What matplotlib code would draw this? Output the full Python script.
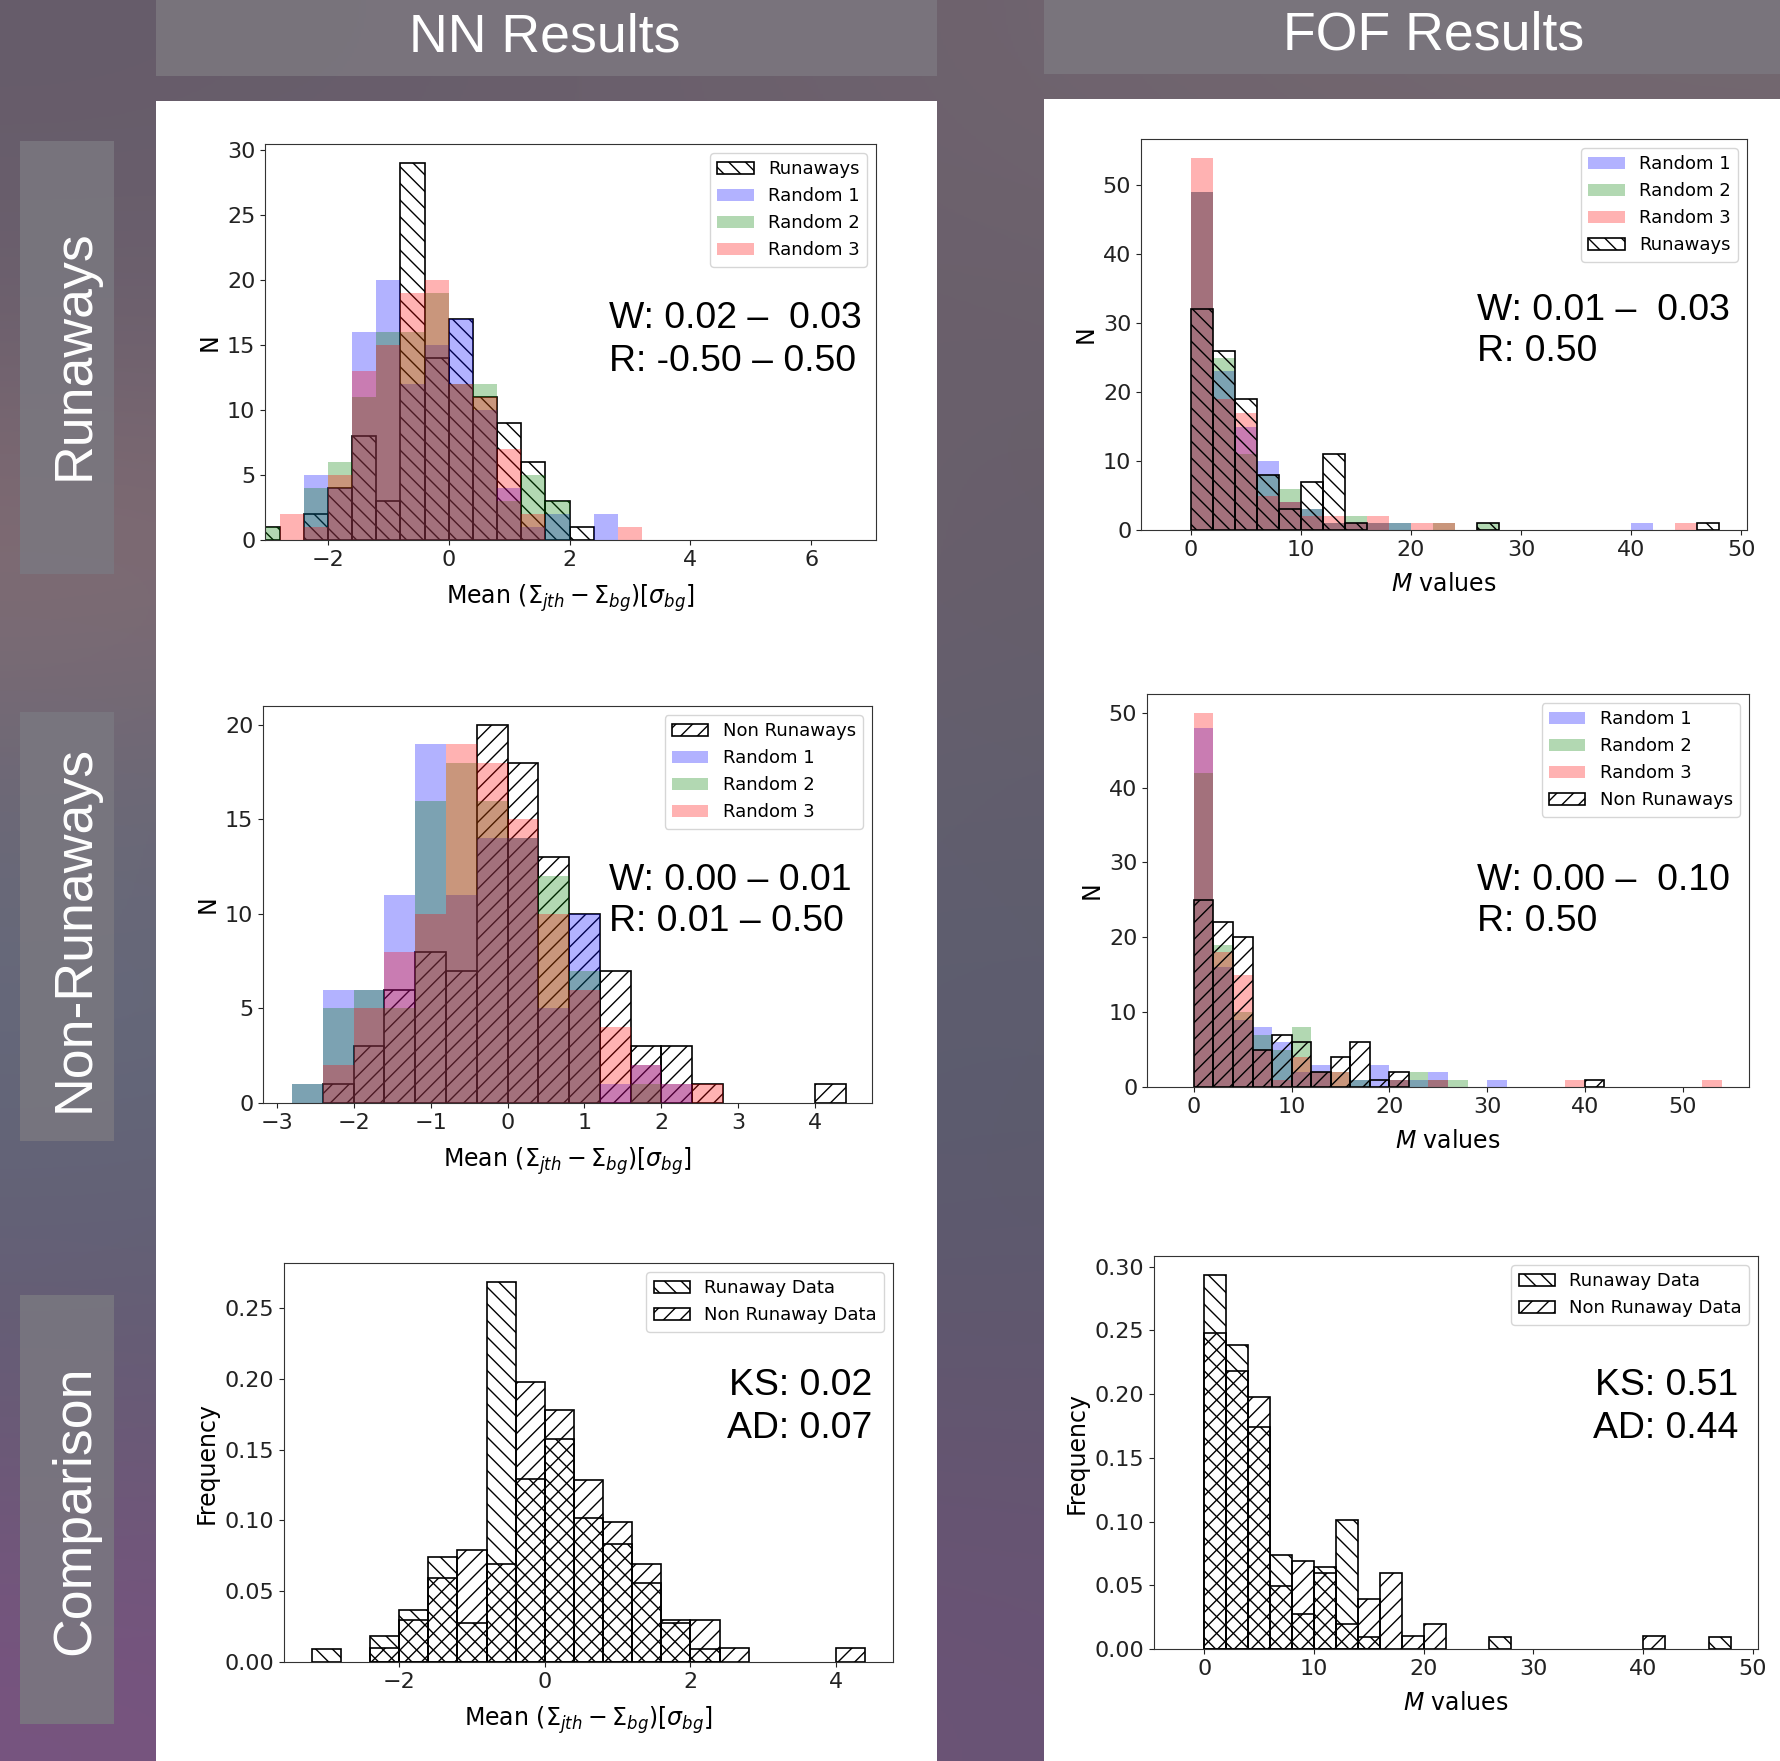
import numpy as np
import matplotlib
matplotlib.use('Agg')
import matplotlib.pyplot as plt
from matplotlib.patches import Rectangle
from matplotlib.ticker import MultipleLocator
from matplotlib import font_manager

# ------------------------------------------------------------------ data
# NN panels: bins of width 0.4 (left edges)
nn_bin_left = [-3.2, -2.8, -2.4, -2.0, -1.6, -1.2, -0.8, -0.4, 0.0, 0.4,
               0.8, 1.2, 1.6, 2.0, 2.4, 2.8, 3.2, 3.6, 4.0]
nn_bin_width = 0.4

nn_run    = [1, 0, 2, 4, 8, 3, 29, 14, 17, 11, 9, 6, 3, 1, 0, 0, 0, 0, 0]
nn_run_r1 = [0, 0, 5, 4, 16, 20, 12, 15, 17, 10, 4, 1, 2, 0, 2, 0, 0, 0, 0]
nn_run_r2 = [1, 0, 4, 6, 11, 16, 16, 19, 12, 12, 3, 5, 3, 0, 0, 0, 0, 0, 0]
nn_run_r3 = [0, 2, 1, 5, 13, 15, 19, 20, 12, 11, 7, 2, 0, 0, 0, 1, 0, 0, 0]

nn_non    = [0, 0, 1, 3, 6, 8, 7, 20, 18, 13, 10, 7, 3, 3, 1, 0, 0, 0, 1]
nn_non_r1 = [0, 1, 6, 6, 11, 19, 11, 14, 14, 5, 10, 1, 2, 1, 0, 0, 0, 0, 0]
nn_non_r2 = [0, 1, 5, 6, 5, 16, 18, 16, 14, 12, 7, 0, 1, 0, 0, 0, 0, 0, 0]
nn_non_r3 = [0, 0, 2, 5, 8, 10, 19, 18, 15, 10, 6, 4, 2, 1, 1, 0, 0, 0, 0]

# FOF panels: bins of width 2 (left edges)
fof_bin_left = [0, 2, 4, 6, 8, 10, 12, 14, 16, 18, 20, 22, 24, 26, 28, 30,
                32, 34, 36, 38, 40, 42, 44, 46, 48, 50, 52]
fof_bin_width = 2

fof_run    = [32, 26, 19, 8, 3, 7, 11, 1, 0, 0, 0, 0, 0, 1, 0, 0, 0, 0, 0, 0, 0, 0, 0, 1, 0, 0, 0]
fof_run_r1 = [49, 23, 15, 10, 4, 3, 1, 1, 1, 1, 0, 0, 0, 0, 0, 0, 0, 0, 0, 0, 1, 0, 0, 0, 0, 0, 0]
fof_run_r2 = [49, 25, 11, 8, 6, 3, 1, 2, 1, 1, 0, 1, 0, 1, 0, 0, 0, 0, 0, 0, 0, 0, 0, 0, 0, 0, 0]
fof_run_r3 = [54, 19, 17, 5, 4, 2, 2, 1, 2, 0, 1, 1, 0, 0, 0, 0, 0, 0, 0, 0, 0, 0, 1, 0, 0, 0, 0]

fof_non    = [25, 22, 20, 5, 7, 6, 2, 4, 6, 1, 2, 0, 0, 0, 0, 0, 0, 0, 0, 0, 1, 0, 0, 0, 0, 0, 0]
fof_non_r1 = [48, 16, 9, 8, 6, 2, 3, 0, 1, 3, 1, 1, 2, 0, 0, 1, 0, 0, 0, 0, 0, 0, 0, 0, 0, 0, 0]
fof_non_r2 = [42, 19, 10, 7, 5, 8, 2, 2, 1, 0, 1, 2, 1, 1, 0, 0, 0, 0, 0, 0, 0, 0, 0, 0, 0, 0, 0]
fof_non_r3 = [50, 18, 15, 5, 1, 4, 2, 2, 0, 0, 1, 0, 1, 0, 0, 0, 0, 0, 0, 1, 0, 0, 0, 0, 0, 0, 1]

col_titles = ["NN Results", "FOF Results"]
row_titles = ["Runaways", "Non-Runaways", "Comparison"]
random_labels = ["Random 1", "Random 2", "Random 3"]
stats_text = {
    "tl": ["W: 0.02 \u2013  0.03", "R: -0.50 \u2013 0.50"],
    "tr": ["W: 0.01 \u2013  0.03", "R: 0.50"],
    "ml": ["W: 0.00 \u2013 0.01", "R: 0.01 \u2013 0.50"],
    "mr": ["W: 0.00 \u2013  0.10", "R: 0.50"],
    "bl": ["KS: 0.02", "AD: 0.07"],
    "br": ["KS: 0.51", "AD: 0.44"],
}

# ------------------------------------------------------------------ setup
W, H, DPI = 1781, 1761, 100
avail = {f.name for f in font_manager.fontManager.ttflist}
if 'Liberation Sans Narrow' in avail:
    SLIDE_FONT, fscale = ['Liberation Sans Narrow', 'DejaVu Sans'], 1.0
else:
    SLIDE_FONT, fscale = ['Liberation Sans', 'DejaVu Sans'], 0.84

plt.rcParams['font.family'] = ['DejaVu Sans']
plt.rcParams['hatch.linewidth'] = 1.0

fig = plt.figure(figsize=(W / DPI, H / DPI), dpi=DPI)


def fx(x):
    return x / W


def fy(y):
    return 1 - y / H


def add_rect(l, t, r, b, color, alpha=1.0, z=-5):
    fig.patches.append(Rectangle((fx(l), fy(b)), (r - l) / W, (b - t) / H,
                                 transform=fig.transFigure, facecolor=color,
                                 edgecolor='none', alpha=alpha, zorder=z))


# background (space-like gradient)
bg_stops = np.array([
    [[102, 92, 106], [110, 98, 110], [116, 104, 112]],
    [[108, 96, 110], [104, 94, 106], [108, 98, 108]],
    [[134, 110, 116], [100, 92, 106], [104, 96, 106]],
    [[108, 104, 118], [96, 92, 108], [100, 96, 110]],
    [[102, 106, 124], [90, 90, 108], [96, 96, 112]],
    [[98, 98, 118], [90, 88, 108], [96, 92, 110]],
    [[106, 90, 118], [98, 84, 110], [102, 88, 114]],
    [[120, 84, 128], [104, 82, 116], [106, 86, 118]],
]) / 255.0
bg = fig.add_axes([0, 0, 1, 1], zorder=-10)
bg.imshow(bg_stops, aspect='auto', interpolation='bicubic', extent=[0, 1, 0, 1])
bg.axis('off')

# white panels
add_rect(156, 101, 937, 1761, 'white', z=-5)
add_rect(1044, 99, 1781, 1761, 'white', z=-5)
# header boxes
add_rect(156, 0, 937, 76, (0.48, 0.46, 0.49), alpha=0.95, z=-4)
add_rect(1044, 0, 1781, 74, (0.48, 0.46, 0.49), alpha=0.95, z=-4)
# row label boxes
for (t, b) in [(141, 574), (712, 1141), (1295, 1724)]:
    add_rect(20, t, 114, b, (0.48, 0.47, 0.50), alpha=0.85, z=-4)

fig.text(fx(545), fy(51), col_titles[0], color='white', fontsize=46 * fscale,
         family=SLIDE_FONT, ha='center', va='baseline')
fig.text(fx(1434), fy(49), col_titles[1], color='white', fontsize=46 * fscale,
         family=SLIDE_FONT, ha='center', va='baseline')
for lab, yc in zip(row_titles, [355, 928, 1510]):
    fig.text(fx(89), fy(yc), lab, color='white', fontsize=46 * fscale,
             family=SLIDE_FONT, ha='center', va='baseline', rotation=90,
             rotation_mode='anchor')


def add_axes_px(l, t, r, b):
    return fig.add_axes([fx(l), fy(b), (r - l) / W, (b - t) / H])


def nonzero(lefts, vals):
    pairs = [(l, v) for l, v in zip(lefts, vals) if v > 0]
    return [p[0] for p in pairs], [p[1] for p in pairs]


def draw_hatched(ax, lefts, width, vals, hatch, label):
    xs, hs = nonzero(lefts, vals)
    ax.bar(xs, hs, width=width, align='edge', fill=False, hatch=hatch,
           edgecolor='black', linewidth=1.2, label=label)


def draw_randoms(ax, lefts, width, series):
    for vals, col, lab in zip(series, ['blue', 'green', 'red'], random_labels):
        xs, hs = nonzero(lefts, vals)
        ax.bar(xs, hs, width=width, align='edge', color=col, alpha=0.3,
               linewidth=0, label=lab)


NN_XLABEL = r'Mean $(\Sigma_{jth} - \Sigma_{bg})[\sigma_{bg}]$'
FOF_XLABEL = r'$M$ values'


def style(ax, xlabel, ylabel, xlim, xstep=None):
    ax.set_xlim(*xlim)
    if xstep is not None:
        ax.xaxis.set_major_locator(MultipleLocator(xstep))
    ax.set_xlabel(xlabel, fontsize=17, labelpad=9)
    ax.set_ylabel(ylabel, fontsize=17)
    ax.tick_params(labelsize=16, colors='#222222')
    for sp in ax.spines.values():
        sp.set_color('#333333')
    ax.legend(loc='upper right', fontsize=13)


def stat_lines(lines, x, y1, y2, ha='left'):
    for s, y in zip(lines, [y1, y2]):
        fig.text(fx(x), fy(y), s, fontsize=32 * fscale, family=SLIDE_FONT,
                 ha=ha, va='baseline', color='black')


# ---- top left: NN runaways
ax = add_axes_px(265, 144, 876, 540)
draw_hatched(ax, nn_bin_left, nn_bin_width, nn_run, '\\\\', 'Runaways')
draw_randoms(ax, nn_bin_left, nn_bin_width, [nn_run_r1, nn_run_r2, nn_run_r3])
style(ax, NN_XLABEL, 'N', (-3.04, 7.07), 2)
stat_lines(stats_text['tl'], 609, 328, 371)

# ---- top right: FOF runaways
ax = add_axes_px(1141, 139, 1747, 530)
draw_randoms(ax, fof_bin_left, fof_bin_width, [fof_run_r1, fof_run_r2, fof_run_r3])
draw_hatched(ax, fof_bin_left, fof_bin_width, fof_run, '\\\\', 'Runaways')
style(ax, FOF_XLABEL, 'N', (-4.5, 50.5), 10)
stat_lines(stats_text['tr'], 1477, 320, 361)

# ---- middle left: NN non runaways
ax = add_axes_px(263, 706, 872, 1103)
draw_hatched(ax, nn_bin_left, nn_bin_width, nn_non, '//', 'Non Runaways')
draw_randoms(ax, nn_bin_left, nn_bin_width, [nn_non_r1, nn_non_r2, nn_non_r3])
style(ax, NN_XLABEL, 'N', (-3.18, 4.74), 1)
stat_lines(stats_text['ml'], 609, 890, 931)

# ---- middle right: FOF non runaways
ax = add_axes_px(1147, 694, 1749, 1087)
draw_randoms(ax, fof_bin_left, fof_bin_width, [fof_non_r1, fof_non_r2, fof_non_r3])
draw_hatched(ax, fof_bin_left, fof_bin_width, fof_non, '//', 'Non Runaways')
style(ax, FOF_XLABEL, 'N', (-4.8, 56.8), 10)
stat_lines(stats_text['mr'], 1477, 890, 931)

# ---- bottom left: NN comparison (frequency)
ax = add_axes_px(284, 1263, 893, 1662)
nn_run_f = np.array(nn_run) / np.sum(nn_run)
nn_non_f = np.array(nn_non) / np.sum(nn_non)
draw_hatched(ax, nn_bin_left, nn_bin_width, nn_run_f, '\\\\', 'Runaway Data')
draw_hatched(ax, nn_bin_left, nn_bin_width, nn_non_f, '//', 'Non Runaway Data')
style(ax, NN_XLABEL, 'Frequency', (-3.58, 4.78), 2)
stat_lines(stats_text['bl'], 872, 1395, 1438, ha='right')

# ---- bottom right: FOF comparison (frequency)
ax = add_axes_px(1154, 1256, 1758, 1649)
fof_run_f = np.array(fof_run) / np.sum(fof_run)
fof_non_f = np.array(fof_non) / np.sum(fof_non)
draw_hatched(ax, fof_bin_left, fof_bin_width, fof_run_f, '\\\\', 'Runaway Data')
draw_hatched(ax, fof_bin_left, fof_bin_width, fof_non_f, '//', 'Non Runaway Data')
style(ax, FOF_XLABEL, 'Frequency', (-4.6, 50.5), 10)
stat_lines(stats_text['br'], 1738, 1395, 1438, ha='right')

fig.savefig('out.png', dpi=DPI)
